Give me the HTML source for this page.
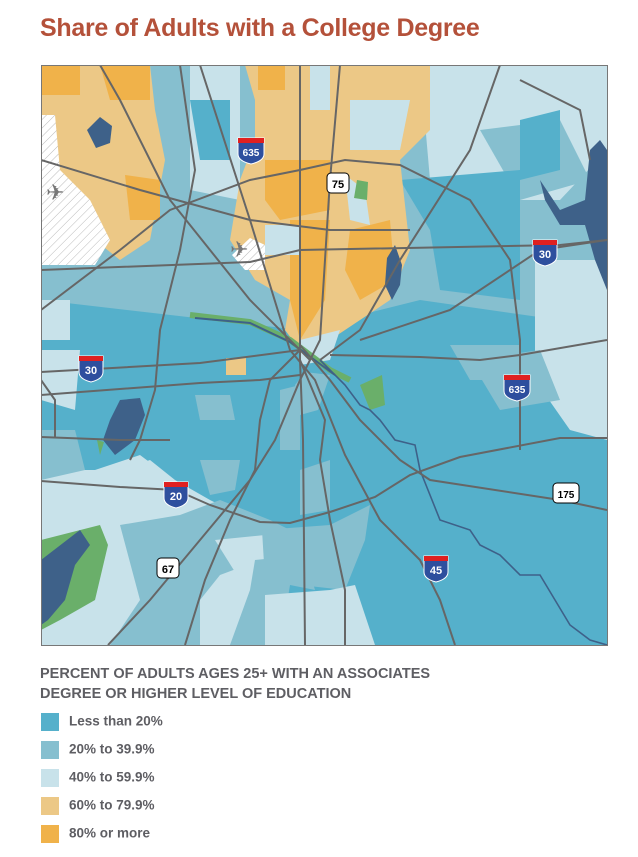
<!DOCTYPE html>
<html><head><meta charset="utf-8"><style>
body{margin:0;background:#fff;width:638px;height:857px;overflow:hidden;font-family:"Liberation Sans",sans-serif}
.t{position:absolute;left:40px;top:14px;font-size:25px;font-weight:bold;color:#b4513a;letter-spacing:-0.3px}
.lg{position:absolute;left:40px;top:664px;font-size:14.5px;font-weight:bold;color:#5e5e63;line-height:20px}
.it{position:absolute;left:41px;font-size:13.5px;font-weight:bold;color:#5e5e63}
.it span{display:inline-block;width:18px;height:18px;vertical-align:middle;margin-right:10px}
</style></head><body>
<div class="t">Share of Adults with a College Degree</div>
<svg style="position:absolute;left:0;top:0" width="638" height="660">
<defs><pattern id="h" width="6" height="6" patternUnits="userSpaceOnUse" patternTransform="rotate(45)"><rect width="6" height="6" fill="#fff"/><line x1="0" y1="0" x2="0" y2="6" stroke="#bbb" stroke-width="1"/></pattern>
<clipPath id="c"><rect x="41" y="65" width="566" height="580"/></clipPath></defs>
<g clip-path="url(#c)">
<rect x="41" y="65" width="566" height="580" fill="#86bfcf"/>
<polygon points="41,300 300,330 420,300 560,320 607,330 607,645 41,645" fill="#55b0cb"/>
<!-- south west -->
<polygon points="41,480 60,470 120,470 150,460 175,480 210,500 250,520 270,600 300,645 41,645" fill="#c8e2ea"/>
<polygon points="41,430 75,430 85,470 41,480" fill="#86bfcf"/>
<polygon points="95,470 140,455 160,470 120,480" fill="#c8e2ea"/>
<polygon points="120,525 180,515 220,500 270,520 300,535 300,560 260,560 220,575 200,600 200,645 110,645 140,600" fill="#86bfcf"/>
<polygon points="215,540 265,535 265,575 240,580" fill="#c8e2ea"/>
<polygon points="255,560 305,555 315,590 290,585 280,645 230,645 250,590" fill="#86bfcf"/>
<polygon points="265,595 330,590 330,645 265,645" fill="#c8e2ea"/>
<polygon points="262,530 330,525 370,505 365,540 345,590 300,585 265,580" fill="#86bfcf"/>
<polygon points="330,590 355,585 375,645 330,645" fill="#c8e2ea"/>
<polygon points="200,460 240,460 235,490 210,495" fill="#86bfcf"/>
<polygon points="300,470 330,460 330,510 300,515" fill="#86bfcf"/>
<polygon points="280,390 300,385 300,450 280,450" fill="#86bfcf"/>
<polygon points="195,395 230,395 235,420 200,420" fill="#86bfcf"/>
<polygon points="295,385 305,372 330,375 318,410 300,415" fill="#86bfcf"/>
<!-- east light -->
<polygon points="535,260 607,260 607,440 570,430 535,380" fill="#c8e2ea"/>
<polygon points="470,360 540,350 560,400 500,410" fill="#86bfcf"/>
<polygon points="450,345 520,345 520,380 470,380" fill="#86bfcf"/>
<!-- NE -->
<polygon points="420,65 607,65 607,150 560,200 480,200 430,180" fill="#c8e2ea"/>
<polygon points="480,130 560,120 590,180 520,200" fill="#86bfcf"/>
<polygon points="400,180 520,170 520,300 440,290 430,230" fill="#55b0cb"/>
<polygon points="520,120 560,110 560,170 520,180" fill="#55b0cb"/>
<polygon points="190,65 240,65 240,200 190,190" fill="#c8e2ea"/>
<polygon points="190,100 230,100 230,160 200,160" fill="#55b0cb"/>
<!-- NW orange -->
<polygon points="41,65 150,65 155,110 165,160 150,240 120,260 95,240 41,230" fill="#ecc886"/>
<polygon points="100,65 150,65 150,100 110,100" fill="#f0b24a"/>
<polygon points="41,65 80,65 80,95 41,95" fill="#f0b24a"/>
<polygon points="125,175 160,180 160,220 130,220" fill="#f0b24a"/>
<polygon points="41,115 55,115 60,170 90,200 110,240 95,265 41,265" fill="url(#h)"/>
<path d="M87,130 L100,117 L112,126 L110,143 L96,148 Z" fill="#3e6189"/>
<!-- north central orange -->
<polygon points="245,65 430,65 430,130 400,160 410,250 390,300 330,340 300,350 285,330 290,300 255,280 230,240 240,180 255,140 255,100" fill="#ecc886"/>
<polygon points="310,65 330,65 330,110 310,110" fill="#c8e2ea"/>
<polygon points="350,100 410,100 400,150 350,150" fill="#c8e2ea"/>
<polygon points="265,160 330,160 330,210 280,220 265,200" fill="#f0b24a"/>
<polygon points="290,220 330,220 325,300 300,340 290,300" fill="#f0b24a"/>
<polygon points="350,230 390,220 395,280 360,300 345,270" fill="#f0b24a"/>
<polygon points="258,65 285,65 285,90 258,90" fill="#f0b24a"/>
<polygon points="345,175 365,190 370,225 350,220" fill="#c8e2ea"/>
<polygon points="357,180 368,182 367,200 354,198" fill="#6aaf6a"/>
<path d="M387,258 L395,245 L402,265 L400,285 L392,300 L385,285 Z" fill="#3e6189"/>
<polygon points="265,225 300,225 300,255 265,255" fill="#c8e2ea"/>
<path d="M232,255 L250,238 L265,245 L265,270 L245,270 Z" fill="url(#h)"/>
<polygon points="300,340 340,330 330,360 300,365" fill="#c8e2ea"/>
<polygon points="226,358 246,358 246,375 226,375" fill="#ecc886"/>
<polygon points="41,300 70,300 70,340 41,340" fill="#c8e2ea"/>
<polygon points="41,350 80,350 75,410 41,400" fill="#c8e2ea"/>
<!-- water -->
<path d="M120,400 L140,398 L145,415 L135,440 L115,455 L103,440 L110,420 Z" fill="#3e6189"/>
<path d="M97,440 L104,442 L100,455 Z" fill="#6aaf6a"/>
<path d="M41,540 L100,525 L108,545 L95,600 L60,620 L41,630 Z" fill="#6aaf6a"/>
<path d="M41,560 L80,530 L90,545 L75,565 L65,600 L48,620 L41,625 Z" fill="#3e6189"/>
<path d="M540,180 L560,210 L585,200 L590,150 L600,140 L607,150 L607,290 L595,260 L585,225 L560,225 L545,200 Z" fill="#3e6189"/>
<path d="M190,315 L250,322 L290,340 L330,370 L350,380" stroke="#6aaf6a" stroke-width="6" fill="none"/>
<path d="M195,318 L250,323 L290,342 L335,375" stroke="#3e6189" stroke-width="2" fill="none"/>
<path d="M360,385 L382,375 L385,405 L370,410 Z" fill="#6aaf6a"/>
<path d="M320,360 L345,385 L360,405 L370,410 L380,420 L395,440 L415,445 L420,470 L432,500 L440,520 L470,530 L480,545 L500,555 L520,575 L540,575 L555,600 L570,625 L590,640 L607,645" stroke="#3e6189" stroke-width="1.6" fill="none"/>
<!-- roads -->
<g stroke="#666" stroke-width="2" fill="none">
<path d="M41,160 L140,190 L250,220 L330,230 L410,230"/>
<path d="M41,270 L250,262 L300,250 L560,245 L607,240"/>
<path d="M41,372 L200,363 L300,350"/>
<path d="M41,395 L200,383 L260,380 L300,375"/>
<path d="M330,355 L420,357 L480,360 L520,355 L607,340"/>
<path d="M41,437 L120,440 L170,440"/>
<path d="M41,481 L120,487 L176,490 L210,505 L260,522 L290,523 L330,512 L375,497 L410,475 L460,457 L560,438 L607,438"/>
<path d="M300,65 L300,360 L303,440 L305,645"/>
<path d="M340,65 L330,180 L320,340 L300,380 L275,440 L250,480 L200,540 L150,600 L108,645"/>
<path d="M200,65 L250,220 L290,350 L315,380 L345,455 L380,520 L420,560 L440,600 L455,645"/>
<path d="M100,65 L120,100 L170,200 L250,300 L310,360"/>
<path d="M41,310 L120,250 L170,210 L250,180 L300,170 L345,160 L400,165 L470,200 L510,260 L520,340 L520,450"/>
<path d="M500,65 L470,150 L400,260 L360,330 L320,360"/>
<path d="M607,240 L540,250 L450,310 L360,340"/>
<path d="M300,345 L330,380 L360,420 L400,460 L430,480 L560,500 L607,510"/>
<path d="M300,350 L270,380 L260,420 L255,470 L230,520 L205,580 L185,645"/>
<path d="M300,360 L325,420 L320,460 L330,520 L345,590 L345,645"/>
<path d="M180,65 L195,170 L180,250 L160,330 L155,390 L140,440 L130,460"/>
<path d="M520,80 L580,110 L590,160"/>
<path d="M41,380 L55,400 L55,437"/>
</g>
</g>
<rect x="41.5" y="65.5" width="566" height="580" fill="none" stroke="#777" stroke-width="1"/>
<g font-family="Liberation Sans,sans-serif" font-weight="bold" text-anchor="middle">
<g transform="translate(251,148)"><path d="M-13,-10 L13,-10 L13,6 Q13,13 0,16 Q-13,13 -13,6Z" fill="#2e4f9e" stroke="#fff"/><rect x="-13" y="-10" width="26" height="5" fill="#e02020"/><text y="8" font-size="10" fill="#fff">635</text></g>
<g transform="translate(545,250)"><path d="M-12,-10 L12,-10 L12,6 Q12,13 0,16 Q-12,13 -12,6Z" fill="#2e4f9e" stroke="#fff"/><rect x="-12" y="-10" width="24" height="5" fill="#e02020"/><text y="8" font-size="11" fill="#fff">30</text></g>
<g transform="translate(91,366)"><path d="M-12,-10 L12,-10 L12,6 Q12,13 0,16 Q-12,13 -12,6Z" fill="#2e4f9e" stroke="#fff"/><rect x="-12" y="-10" width="24" height="5" fill="#e02020"/><text y="8" font-size="11" fill="#fff">30</text></g>
<g transform="translate(517,385)"><path d="M-13,-10 L13,-10 L13,6 Q13,13 0,16 Q-13,13 -13,6Z" fill="#2e4f9e" stroke="#fff"/><rect x="-13" y="-10" width="26" height="5" fill="#e02020"/><text y="8" font-size="10" fill="#fff">635</text></g>
<g transform="translate(176,492)"><path d="M-12,-10 L12,-10 L12,6 Q12,13 0,16 Q-12,13 -12,6Z" fill="#2e4f9e" stroke="#fff"/><rect x="-12" y="-10" width="24" height="5" fill="#e02020"/><text y="8" font-size="11" fill="#fff">20</text></g>
<g transform="translate(436,566)"><path d="M-12,-10 L12,-10 L12,6 Q12,13 0,16 Q-12,13 -12,6Z" fill="#2e4f9e" stroke="#fff"/><rect x="-12" y="-10" width="24" height="5" fill="#e02020"/><text y="8" font-size="11" fill="#fff">45</text></g>
<g transform="translate(338,183)"><rect x="-11" y="-10" width="22" height="20" rx="4" fill="#fff" stroke="#000"/><text y="5" font-size="11" fill="#000">75</text></g>
<g transform="translate(566,493)"><rect x="-13" y="-10" width="26" height="20" rx="4" fill="#fff" stroke="#000"/><text y="5" font-size="10" fill="#000">175</text></g>
<g transform="translate(168,568)"><rect x="-11" y="-10" width="22" height="20" rx="4" fill="#fff" stroke="#000"/><text y="5" font-size="11" fill="#000">67</text></g>
</g>
<g fill="#777" font-size="22"><text x="46" y="200">✈</text><text x="230" y="257">✈</text></g>
</svg>
<div class="lg">PERCENT OF ADULTS AGES 25+ WITH AN ASSOCIATES<br>DEGREE OR HIGHER LEVEL OF EDUCATION</div>
<div class="it" style="top:713px"><span style="background:#55b0cb"></span>Less than 20%</div>
<div class="it" style="top:741px"><span style="background:#86bfcf"></span>20% to 39.9%</div>
<div class="it" style="top:769px"><span style="background:#c8e2ea"></span>40% to 59.9%</div>
<div class="it" style="top:797px"><span style="background:#ecc886"></span>60% to 79.9%</div>
<div class="it" style="top:825px"><span style="background:#f0b24a"></span>80% or more</div>
</body></html>
